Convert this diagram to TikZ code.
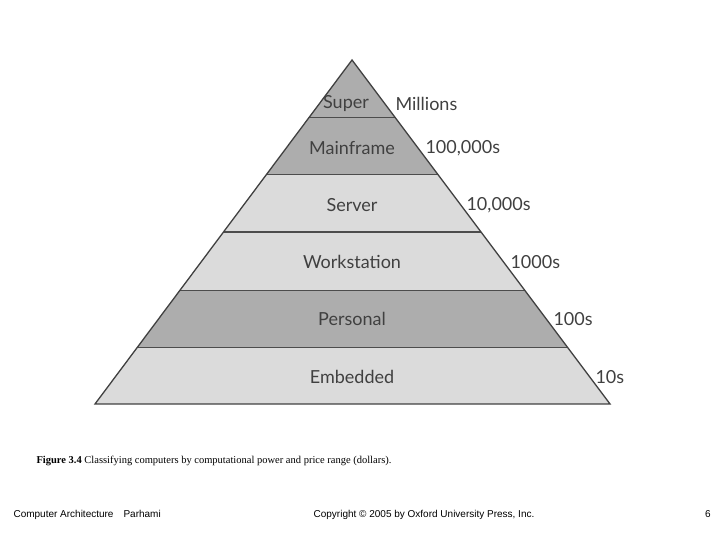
\documentclass[tikz,border=0pt]{standalone}
\usepackage{fontspec}
\setmainfont{Liberation Serif}
\newfontfamily\pyr{Lato}
\newfontfamily\arial{Liberation Sans}
\begin{document}
\begin{tikzpicture}[x=1pt,y=-1pt,
  lvl/.style={font=\pyr\fontsize{18}{20}\selectfont,text=black!75},
  price/.style={font=\pyr\fontsize{18}{20}\selectfont,text=black!75,anchor=west},
  foot/.style={font=\arial\fontsize{10}{12}\selectfont,anchor=base west}]
\useasboundingbox (0,0) rectangle (720,540);
\coordinate (A) at (352,60);
\coordinate (L) at (95,404);
\coordinate (R) at (610,404);
\begin{scope}
\clip (A) -- (L) -- (R) -- cycle;
\fill[black!32] (0,55) rectangle (720,118);
\fill[black!32] (0,118) rectangle (720,175);
\fill[black!14] (0,175) rectangle (720,232);
\fill[black!14] (0,232) rectangle (720,290);
\fill[black!32] (0,290) rectangle (720,347);
\fill[black!14] (0,347) rectangle (720,404);
\foreach \y in {118,175,232,290,347}
  \draw[black!70,line width=1pt] (0,\y) -- (720,\y);
\end{scope}
\draw[black!75,line width=1.3pt] (A) -- (L) -- (R) -- cycle;
\node[lvl] (s) at (346,104) {Super};
\node[lvl] (m) at (352,148) {Mainframe};
\node[lvl] (sv) at (352,205) {Server};
\node[lvl] (w) at (352,262) {Workstation};
\node[lvl] (p) at (352,319) {Personal};
\node[lvl] (e) at (352,377) {Embedded};
\node[price] (p1) at (392,104) {Millions};
\node[price] (p2) at (422,148) {100,000s};
\node[price] (p3) at (463,205) {10,000s};
\node[price] (p4) at (507,262) {1000s};
\node[price] (p5) at (550,319) {100s};
\node[price] (p6) at (592,377) {10s};
\node[anchor=west,font=\fontsize{10.5}{12}\selectfont] (cap) at (33,461) {\textbf{Figure 3.4} Classifying computers by computational power and price range (dollars).};
\node[foot] (f1) at (10,517) {Computer Architecture};
\node[foot] (f2) at (120,517) {Parhami};
\node[foot,anchor=base] (f3) at (424,517) {Copyright © 2005 by Oxford University Press, Inc.};
\node[foot,anchor=base] (f4) at (708,517) {6};
\end{tikzpicture}
\end{document}
